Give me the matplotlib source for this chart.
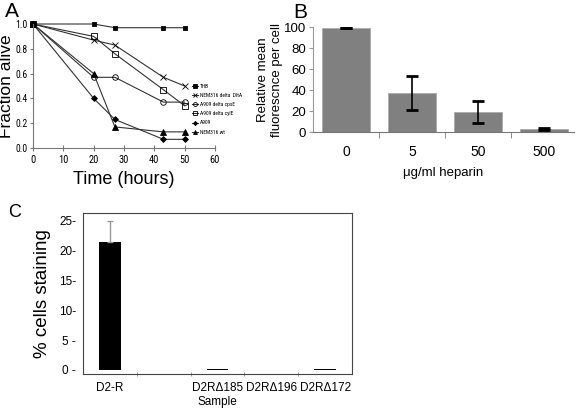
import matplotlib
matplotlib.use('agg')
import matplotlib.pyplot as plt
from matplotlib import font_manager as fm
import numpy as np

plt.rcParams['font.family'] = ['Liberation Sans', 'DejaVu Sans']

# panel A: survival over time
hours = [0, 20, 27, 43, 50]
strains = ['THB', 'NEM316 delta  DltA', 'A909 delta cpsE', 'A909 delta cylE', 'A909', 'NEM316 wt']
alive = [
    [1.0, 1.0, 0.97, 0.97, 0.97],
    [1.0, 0.87, 0.83, 0.57, 0.50],
    [1.0, 0.57, 0.57, 0.37, 0.37],
    [1.0, 0.90, 0.76, 0.47, 0.34],
    [1.0, 0.40, 0.23, 0.07, 0.07],
    [1.0, 0.60, 0.17, 0.13, 0.13],
]
marks = ['s', 'x', 'o', 's', 'D', '^']
fills = ['black', 'none', 'none', 'none', 'black', 'black']
msize = [3.5, 4, 4, 4, 3, 4]

# panel B: heparin
heparin = ['0', '5', '50', '500']
fluor = [99, 37, 19, 2.5]
fluor_err = [0.4, 16, 10.5, 1.0]

# panel C: staining
samples = ['D2-R', '', 'D2R\u0394185', 'D2R\u0394196', 'D2R\u0394172']
staining = [21.5, 0, 0.12, 0.03, 0.2]
staining_err = [3.4, 0, 0, 0, 0]

W, H = 576, 412
fig = plt.figure(figsize=(W/100, H/100), dpi=100)

def box(l, t, r, b):
    return [l/W, 1-b/H, (r-l)/W, (b-t)/H]

# narrow font for panel A ticks if one is around
have = {f.name for f in fm.fontManager.ttflist}
narrow, tsize = 'Liberation Sans', 6.5
for cand in ['Liberation Sans Narrow', 'DejaVu Sans Condensed', 'Roboto Condensed', 'Open Sans Condensed']:
    if cand in have:
        narrow, tsize = cand, 7
        break

# ---- A
axA = fig.add_axes(box(33, 24, 215, 148))
for n in range(len(strains)):
    axA.plot(hours, alive[n], color='#333333', lw=0.8, marker=marks[n],
             markersize=msize[n], mfc=fills[n], mec='black', mew=0.6,
             label=strains[n], clip_on=False)
axA.set_xlim(0, 60)
axA.set_ylim(0, 1.0)
axA.set_xticks(np.arange(0, 61, 10))
axA.set_yticks(np.arange(0, 1.01, 0.2))
axA.set_yticklabels([f'{t:.1f}' for t in np.arange(0, 1.01, 0.2)])
for s in ['top', 'right']:
    axA.spines[s].set_visible(False)
for s in ['left', 'bottom']:
    axA.spines[s].set_color('#777777')
axA.tick_params(axis='x', direction='inout', length=4, color='#777777', labelsize=tsize + 0.5, pad=3)
axA.tick_params(axis='y', direction='out', length=2.5, color='#777777', labelsize=tsize, pad=1.5)
for t in axA.get_xticklabels() + axA.get_yticklabels():
    t.set_family(narrow)
axA.set_xlabel('Time (hours)', fontsize=13, labelpad=4)
axA.set_ylabel('Fraction alive', fontsize=12.5)
axA.yaxis.set_label_coords(-19/182, 0.5)
axA.legend(loc='upper left', bbox_to_anchor=(0.86, 0.54), frameon=False,
           handlelength=1.0, handletextpad=0.3, labelspacing=0.75, borderpad=0,
           markerscale=0.7, prop={'family': narrow, 'size': 4})
fig.text(5/W, 1-2/H, 'A', fontsize=15, va='top')

# ---- B
axB = fig.add_axes(box(313, 27, 574, 132))
xb = np.arange(len(heparin))
axB.bar(xb, fluor, width=0.72, color='#808080', edgecolor='#aaaaaa', lw=0.6, zorder=2)
axB.errorbar(xb, fluor, yerr=fluor_err, fmt='none', ecolor='black', elinewidth=1.2,
             capsize=4, capthick=2, zorder=3)
axB.set_xlim(-0.5, 3.45)
axB.set_ylim(0, 100)
axB.set_yticks(np.arange(0, 101, 20))
axB.set_xticks(xb)
axB.set_xticklabels(heparin)
axB.set_xticks(np.arange(0.5, 3.0, 1), minor=True)
for s in ['top', 'right']:
    axB.spines[s].set_visible(False)
axB.spines['left'].set_color('#999999')
axB.spines['bottom'].set_color('#777777')
axB.tick_params(axis='x', which='major', length=0, labelsize=10, pad=9)
axB.tick_params(axis='x', which='minor', length=4, color='#777777', direction='out')
axB.tick_params(axis='y', length=3, color='#999999', labelsize=9.5, pad=2)
axB.set_xlabel('\u03bcg/ml heparin', fontsize=9.5, labelpad=6)
axB.set_ylabel('Relative mean\nfluorescnce per cell', fontsize=9.5)
axB.yaxis.set_label_coords(-30/261, 0.5)
fig.text(293/W, 1-3/H, 'B', fontsize=15, va='top')

# ---- C
axC = fig.add_axes(box(83, 213, 352, 374))
xc = np.arange(len(samples))
axC.bar(xc, staining, width=0.4, color='black', zorder=2)
axC.errorbar(xc[:1], staining[:1], yerr=[[0], staining_err[:1]], fmt='none',
             ecolor='#999999', elinewidth=1.0, capsize=2, capthick=1, zorder=3)
axC.set_xlim(-0.5, 4.5)
axC.set_ylim(-0.7, 26.3)
yt = [0, 5, 10, 15, 20, 25]
axC.set_yticks(yt)
axC.set_yticklabels(['0 -', '5 -', '10-', '15-', '20-', '25-'])
axC.set_xticks(xc)
axC.set_xticklabels(samples)
axC.set_xticks(np.arange(0.5, 4.0, 1), minor=True)
for s in axC.spines.values():
    s.set_color('#444444')
    s.set_linewidth(0.8)
axC.tick_params(axis='y', length=0, labelsize=8.5, pad=5)
axC.tick_params(axis='x', which='major', length=0, labelsize=8.5, pad=6)
axC.tick_params(axis='x', which='minor', length=3, direction='inout', color='#888888')
axC.set_xlabel('Sample', fontsize=8.5, labelpad=1)
axC.set_ylabel('% cells staining', fontsize=13.5, labelpad=6)
fig.text(8/W, 1-204/H, 'C', fontsize=13, va='top')

fig.savefig('out.png', dpi=100)
